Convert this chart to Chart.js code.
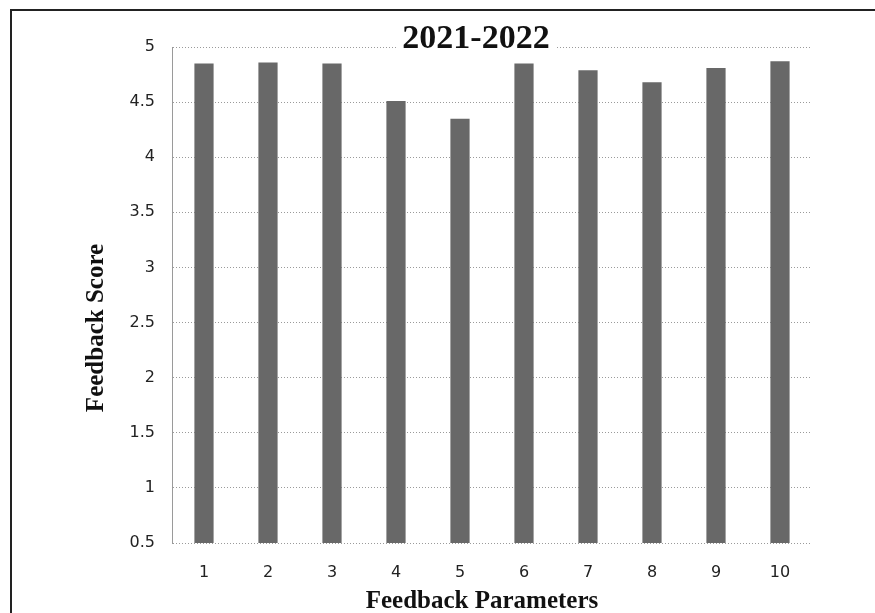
<!DOCTYPE html>
<html lang="en">

<head>
    <meta charset="UTF-8">
    <title>Feedback Score 2021-2022</title>
    <script src="https://cdn.jsdelivr.net/npm/chart.js"></script>
    <style>
        body {
            margin: 0;
            background: #ffffff;
        }

        #wrap {
            width: 875px;
            height: 613px;
        }
    </style>
</head>

<body>
    <div id="wrap">
        <canvas id="feedbackChart" width="875" height="613"></canvas>
    </div>

    <script>
        // data
        const parameters = ['1', '2', '3', '4', '5', '6', '7', '8', '9', '10'];
        const scores = [4.85, 4.86, 4.85, 4.51, 4.35, 4.85, 4.79, 4.68, 4.81, 4.87];
        const chartTitle = '2021-2022';
        const xTitle = 'Feedback Parameters';
        const yTitle = 'Feedback Score';

        const serif = '"Liberation Serif", "DejaVu Serif", serif';

        // page frame + titles drawn by hand, like the scan
        const decorations = {
            id: 'decorations',
            beforeDraw(chart) {
                const ctx = chart.ctx;
                ctx.save();
                ctx.strokeStyle = '#222';
                ctx.lineWidth = 2;
                ctx.beginPath();
                ctx.moveTo(875, 10);
                ctx.lineTo(11, 10);
                ctx.lineTo(11, 613);
                ctx.stroke();
                ctx.restore();
            },
            afterDraw(chart) {
                const ctx = chart.ctx;
                ctx.save();
                ctx.textAlign = 'center';
                ctx.textBaseline = 'alphabetic';

                // title sits over the top gridline, blank it out first
                ctx.font = 'bold 34px ' + serif;
                const w = ctx.measureText(chartTitle).width;
                ctx.fillStyle = '#fff';
                ctx.fillRect(476 - w / 2 - 6, 22, w + 12, 30);
                ctx.fillStyle = '#111';
                ctx.fillText(chartTitle, 476, 48);

                ctx.font = 'bold 25px ' + serif;
                ctx.fillText(xTitle, 482, 608);

                ctx.translate(103, 328);
                ctx.rotate(-Math.PI / 2);
                ctx.fillText(yTitle, 0, 0);
                ctx.restore();
            }
        };

        new Chart(document.getElementById('feedbackChart'), {
            type: 'bar',
            data: {
                labels: parameters,
                datasets: [{
                    data: scores,
                    backgroundColor: '#686868',
                    borderWidth: 0,
                    barPercentage: 0.3,
                    categoryPercentage: 1.0
                }]
            },
            options: {
                responsive: false,
                animation: false,
                layout: { padding: { top: 47, right: 63, left: 0, bottom: 0 } },
                plugins: {
                    legend: { display: false },
                    title: { display: false },
                    tooltip: { enabled: false }
                },
                scales: {
                    x: {
                        afterFit: (scale) => { scale.height = 70; },
                        grid: { display: false, drawTicks: false },
                        border: { display: false },
                        ticks: {
                            padding: 20,
                            color: '#222',
                            font: { family: '"DejaVu Sans", sans-serif', size: 16 }
                        }
                    },
                    y: {
                        min: 0.5,
                        max: 5,
                        afterFit: (scale) => { scale.width = 172; },
                        grid: {
                            color: '#9a9a9a',
                            lineWidth: 1,
                            drawTicks: false
                        },
                        // dotted gridlines and axis line
                        border: { display: true, color: '#9a9a9a', dash: [1, 2] },
                        ticks: {
                            stepSize: 0.5,
                            padding: 17,
                            color: '#222',
                            font: { family: '"DejaVu Sans", sans-serif', size: 16 },
                            callback: (value) => String(value)
                        }
                    }
                }
            },
            plugins: [decorations]
        });
    </script>
</body>

</html>
